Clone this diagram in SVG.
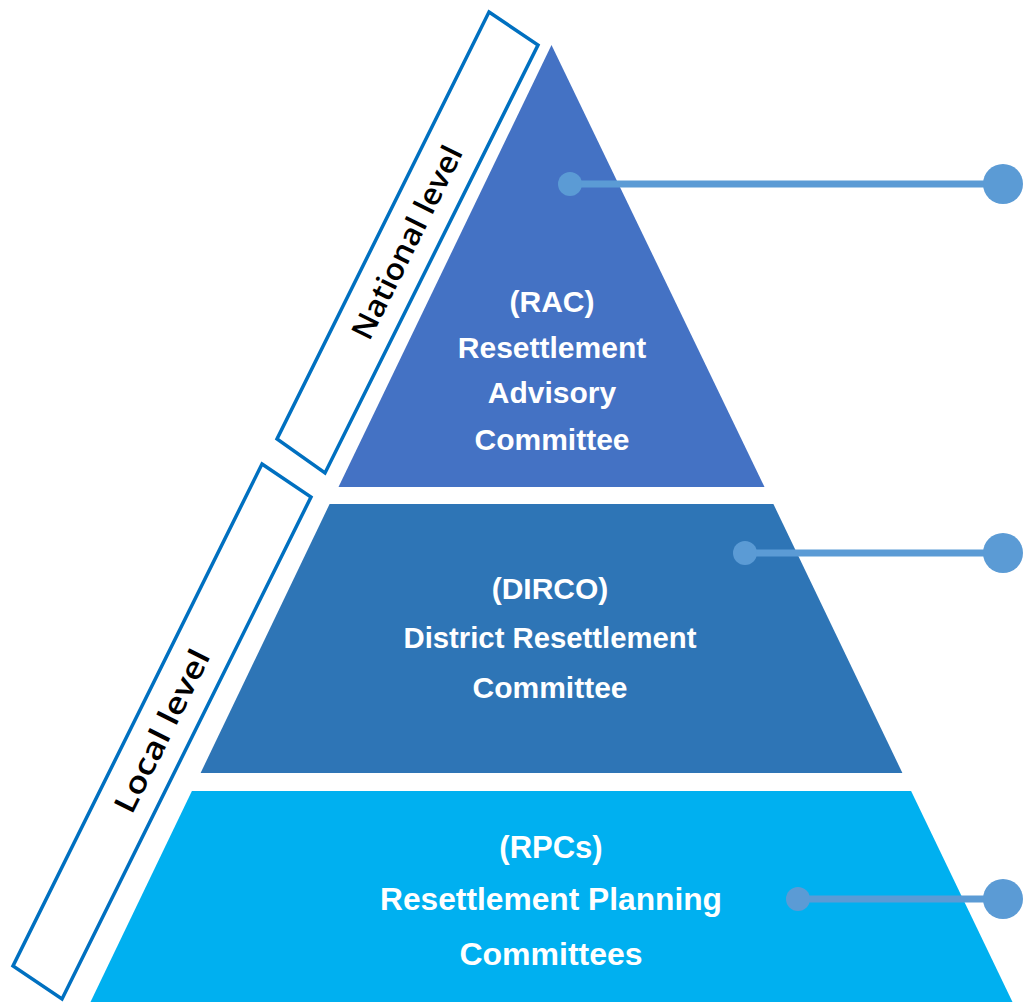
<svg xmlns="http://www.w3.org/2000/svg" width="1024" height="1002" viewBox="0 0 1024 1002">
  <style>
    .tier-label { font-family: "Liberation Sans", Arial, sans-serif; font-weight: bold; fill: #ffffff; text-anchor: middle; }
    .level-box { fill: #ffffff; stroke: #0070C0; stroke-width: 3.5; stroke-linejoin: miter; }
    .level-label { font-family: "Open Sans", "Liberation Sans", sans-serif; font-weight: 600; fill: #000000; text-anchor: middle; font-size: 30px; }
    .link { stroke: #5B9BD5; stroke-width: 7; fill: none; }
    .dot { fill: #5B9BD5; }
  </style>
  <rect width="1024" height="1002" fill="#ffffff"/>

  <!-- Pyramid tiers -->
  <g id="tier-rac">
    <polygon points="551.5,45 764.5,487 338.5,487" fill="#4472C4"/>
    <text class="tier-label" font-size="30" x="552" y="312">(RAC)</text>
    <text class="tier-label" font-size="30" x="552" y="358">Resettlement</text>
    <text class="tier-label" font-size="30" x="552" y="403">Advisory</text>
    <text class="tier-label" font-size="30" x="552" y="450">Committee</text>
  </g>

  <g id="tier-dirco">
    <polygon points="329.6,504 773.4,504 902.4,773 200.6,773" fill="#2E75B6"/>
    <text class="tier-label" font-size="30" x="550" y="599">(DIRCO)</text>
    <text class="tier-label" font-size="30" x="550" y="648" textLength="293" lengthAdjust="spacingAndGlyphs">District Resettlement</text>
    <text class="tier-label" font-size="30" x="550" y="698">Committee</text>
  </g>

  <g id="tier-rpcs">
    <polygon points="191.9,791 911.1,791 1012.5,1002 90.5,1002" fill="#00B0F0"/>
    <text class="tier-label" font-size="31" x="551" y="858">(RPCs)</text>
    <text class="tier-label" font-size="32" x="551" y="910" textLength="342" lengthAdjust="spacingAndGlyphs">Resettlement Planning</text>
    <text class="tier-label" font-size="32" x="551" y="965">Committees</text>
  </g>

  <!-- Level bands along the left flank -->
  <g id="band-national">
    <polygon class="level-box" points="489,12 538,45 325,473 277,439"/>
    <text class="level-label" transform="translate(407,242.5) rotate(-63.6)" y="0" dy="0.35em" textLength="212" lengthAdjust="spacingAndGlyphs">National level</text>
  </g>

  <g id="band-local">
    <polygon class="level-box" points="262,464 311,497 62,999 13,966"/>
    <text class="level-label" transform="translate(162,731) rotate(-63.6)" y="0" dy="0.35em" textLength="178" lengthAdjust="spacingAndGlyphs">Local level</text>
  </g>

  <!-- Callout connectors -->
  <g id="connectors">
    <line class="link" x1="570" y1="184" x2="1003" y2="184"/>
    <circle class="dot" cx="570" cy="184" r="12"/>
    <circle class="dot" cx="1003" cy="184" r="20"/>

    <line class="link" x1="745" y1="553" x2="1003" y2="553"/>
    <circle class="dot" cx="745" cy="553" r="12"/>
    <circle class="dot" cx="1003" cy="553" r="20"/>

    <line class="link" x1="798" y1="899" x2="1003" y2="899"/>
    <circle class="dot" cx="798" cy="899" r="12"/>
    <circle class="dot" cx="1003" cy="899" r="20"/>
  </g>
</svg>
